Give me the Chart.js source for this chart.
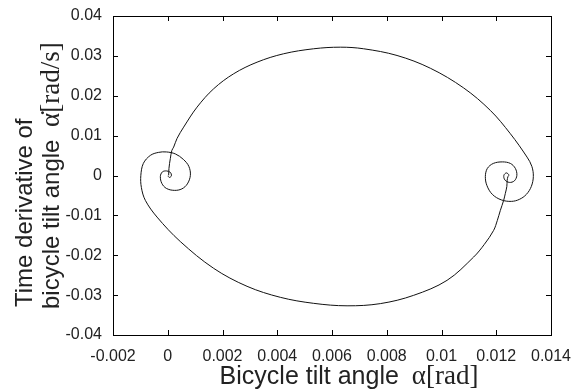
<!DOCTYPE html>
<html>
<head>
<meta charset="utf-8">
<title>Bicycle tilt phase plane</title>
<script src="https://cdn.jsdelivr.net/npm/chart.js@4/dist/chart.umd.min.js"></script>
<style>
    body { margin: 0; background: #fff; }
    #wrap { width: 583px; height: 392px; position: relative; }
</style>
</head>
<body>
<div id="wrap"><canvas id="phaseChart"></canvas></div>
<script>
// Trajectory in the (alpha, alpha-dot) plane, split into its four pieces
const upperArcX = [0.000033, 0.000044, 0.000095, 0.000150, 0.000216, 0.000340, 0.000581, 0.001070,
    0.001677, 0.002407, 0.003262, 0.004234, 0.005330, 0.006305, 0.007156, 0.008376, 0.009593,
    0.010809, 0.011785, 0.012515, 0.013125];
const upperArcY = [0.00003, 0.00178, 0.00429, 0.00629, 0.00712, 0.00930, 0.01213, 0.01714,
    0.02175, 0.02551, 0.02842, 0.03053, 0.03178, 0.03218, 0.03178, 0.03010, 0.02690,
    0.02196, 0.01632, 0.01048, 0.00461];

const rightSpiralX = [0.013301, 0.013355, 0.013282, 0.013100, 0.012844, 0.012552, 0.012186,
    0.011858, 0.011657, 0.011602, 0.011675, 0.011894, 0.012223, 0.012515, 0.012698, 0.012753,
    0.012661, 0.012479, 0.012314, 0.012278, 0.012369, 0.012460, 0.012424];
const rightSpiralY = [0.00228, -0.00023, -0.00273, -0.00474, -0.00599, -0.00649, -0.00612,
    -0.00474, -0.00248, -0.00023, 0.00178, 0.00303, 0.00341, 0.00303, 0.00178, 0.00003,
    -0.00135, -0.00173, -0.00110, 0.00003, 0.00065, 0.00015, -0.00035];

const lowerArcX = [0.012398, 0.012387, 0.012332, 0.012270, 0.012150, 0.012040, 0.011905,
    0.011565, 0.011174, 0.010203, 0.008983, 0.007766, 0.006550, 0.005330, 0.004113, 0.002897,
    0.001677, 0.000460, -0.000391, -0.000818, -0.000964];
const lowerArcY = [-0.00123, -0.00273, -0.00449, -0.00624, -0.00875, -0.01125, -0.01376,
    -0.01727, -0.02045, -0.02629, -0.03005, -0.03213, -0.03268, -0.03206, -0.03055, -0.02779,
    -0.02328, -0.01657, -0.01043, -0.00624, -0.00298];

const leftSpiralX = [-0.000983, -0.000891, -0.000636, -0.000343, -0.000051, 0.000278, 0.000570,
    0.000771, 0.000826, 0.000716, 0.000515, 0.000241, -0.000051, -0.000216, -0.000270, -0.000197,
    -0.000051, 0.000095, 0.000132, 0.000058, 0.000004];
const leftSpiralY = [0.00003, 0.00303, 0.00504, 0.00579, 0.00591, 0.00541, 0.00404,
    0.00228, 0.00003, -0.00211, -0.00336, -0.00373, -0.00323, -0.00198, -0.00023, 0.00090,
    0.00115, 0.00078, -0.00010, -0.00048, -0.00010];

const xTickLabels = ['-0.002', '0', '0.002', '0.004', '0.006', '0.008', '0.01', '0.012', '0.014'];
const yTickLabels = ['-0.04', '-0.03', '-0.02', '-0.01', '0', '0.01', '0.02', '0.03', '0.04'];

const SANS = '"Liberation Sans", Arial, sans-serif';
const SERIF = '"Liberation Serif", "Times New Roman", serif';

function toPoints(xs, ys) {
    return xs.map((x, i) => ({ x: x, y: ys[i] }));
}

const trajectory = [].concat(
    toPoints(upperArcX, upperArcY),
    toPoints(rightSpiralX, rightSpiralY),
    toPoints(lowerArcX, lowerArcY),
    toPoints(leftSpiralX, leftSpiralY)
);

// writes a row of text pieces in different fonts, starting at (x, y)
function drawRuns(ctx, runs, x, y) {
    let cx = x;
    runs.forEach(r => {
        ctx.font = r.font;
        ctx.fillText(r.text, cx, y);
        cx += ctx.measureText(r.text).width + (r.gap || 0);
    });
    return cx - x;
}

function runsWidth(ctx, runs) {
    let w = 0;
    runs.forEach(r => {
        ctx.font = r.font;
        w += ctx.measureText(r.text).width + (r.gap || 0);
    });
    return w;
}

// box around the plot, inward tick marks on all four sides, axis titles
const framePlugin = {
    id: 'frame',
    afterDraw(chart) {
        const ctx = chart.ctx;
        const a = chart.chartArea;
        const xs = chart.scales.x;
        const ys = chart.scales.y;
        const len = 5;

        ctx.save();
        ctx.strokeStyle = '#000';
        ctx.lineWidth = 1;
        ctx.strokeRect(Math.round(a.left) + 0.5, Math.round(a.top) + 0.5,
            Math.round(a.right - a.left), Math.round(a.bottom - a.top));

        ctx.beginPath();
        xs.ticks.forEach(t => {
            const px = Math.round(xs.getPixelForValue(t.value)) + 0.5;
            ctx.moveTo(px, a.bottom);
            ctx.lineTo(px, a.bottom - len);
            ctx.moveTo(px, a.top);
            ctx.lineTo(px, a.top + len);
        });
        ys.ticks.forEach(t => {
            const py = Math.round(ys.getPixelForValue(t.value)) + 0.5;
            ctx.moveTo(a.left, py);
            ctx.lineTo(a.left + len, py);
            ctx.moveTo(a.right, py);
            ctx.lineTo(a.right - len, py);
        });
        ctx.stroke();

        ctx.fillStyle = '#222';
        ctx.textBaseline = 'alphabetic';
        ctx.textAlign = 'left';

        const xTitle = [
            { text: 'Bicycle tilt angle ', font: '25px ' + SANS, gap: 6 },
            { text: '\u03B1[rad]', font: '27px ' + SERIF }
        ];
        const xw = runsWidth(ctx, xTitle);
        drawRuns(ctx, xTitle, 349 - xw / 2, 384);

        ctx.rotate(-Math.PI / 2);
        drawRuns(ctx, [{ text: 'Time derivative of', font: '24px ' + SANS }], -307, 32);
        drawRuns(ctx, [
            { text: 'bicycle tilt angle ', font: '24px ' + SANS, gap: 6 },
            { text: '\u03B1\u0307[rad/s]', font: '27px ' + SERIF }
        ], -309, 59);
        ctx.restore();
    }
};

const ctx = document.getElementById('phaseChart');
new Chart(ctx, {
    type: 'scatter',
    data: {
        datasets: [{
            data: trajectory,
            showLine: true,
            borderColor: '#111',
            borderWidth: 1,
            pointRadius: 0,
            tension: 0.35,
            fill: false
        }]
    },
    options: {
        responsive: true,
        maintainAspectRatio: false,
        animation: false,
        layout: { padding: { top: 16, right: 32, left: 0, bottom: 0 } },
        plugins: {
            legend: { display: false },
            tooltip: { enabled: false }
        },
        scales: {
            x: {
                type: 'linear',
                min: -0.002,
                max: 0.014,
                grid: { display: false },
                border: { display: false },
                afterFit(scale) { scale.height = 57; },
                ticks: {
                    stepSize: 0.002,
                    padding: 4,
                    color: '#222',
                    font: { family: SANS, size: 16 },
                    maxRotation: 0,
                    autoSkip: false,
                    callback: (v, i) => xTickLabels[i]
                }
            },
            y: {
                type: 'linear',
                min: -0.04,
                max: 0.04,
                grid: { display: false },
                border: { display: false },
                afterFit(scale) { scale.width = 113; },
                ticks: {
                    stepSize: 0.01,
                    padding: 3,
                    color: '#222',
                    font: { family: SANS, size: 16 },
                    autoSkip: false,
                    callback: (v, i) => yTickLabels[i]
                }
            }
        }
    },
    plugins: [framePlugin]
});
</script>
</body>
</html>
